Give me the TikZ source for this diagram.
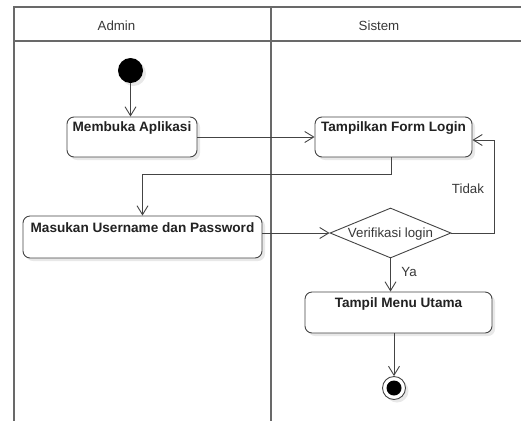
\documentclass[tikz,border=0pt]{standalone}
\usepackage{fontspec}
\setmainfont{Liberation Sans}
\usetikzlibrary{arrows.meta,shapes.geometric,shadows,calc}
\definecolor{ln}{HTML}{444444}
\definecolor{tx}{HTML}{222222}
\tikzset{
  lane/.style={draw=ln!80, line width=1.2pt},
  shad/.style={drop shadow={shadow xshift=3pt, shadow yshift=-3pt, fill=black!9, opacity=1}},
  act/.style={draw=ln, line width=0.9pt, rounded corners=7pt, fill=white, shad, inner sep=0pt},
  lab/.style={font=\fontsize{13.6}{15}\selectfont\bfseries, text=tx, inner sep=0pt, anchor=north},
  txt/.style={font=\fontsize{13.3}{15}\selectfont, text=tx!90, inner sep=0pt},
  flow/.style={draw=ln, line width=0.9pt, -{Straight Barb[length=9pt,width=11pt,line width=0.9pt]}},
}
\begin{document}
\begin{tikzpicture}[x=1pt,y=-1pt]
\useasboundingbox (0,0) rectangle (521,421);
% swimlanes
\coordinate (tl) at (14,7);
\coordinate (tr) at (521,7);
\coordinate (hl) at (14,41);
\coordinate (hr) at (521,41);
\coordinate (bl) at (14,421);
\coordinate (mt) at (271,7);
\coordinate (mb) at (271,421);
\draw[lane] (tr) -- (tl) -- (bl);
\draw[lane] (hl) -- (hr);
\draw[lane] (mt) -- (mb);
\node[txt] (hadmin) at (116.5,26) {Admin};
\node[txt] (hsistem) at (379,26) {Sistem};
% nodes
\node[circle, fill=black, minimum size=25pt, inner sep=0pt, shad] (start) at (130.5,70.5) {};
\node[act, minimum width=130pt, minimum height=40pt] (A) at (132,137) {};
\node[lab] (Alab) at ([yshift=-5pt]A.north) {Membuka Aplikasi};
\node[act, minimum width=157pt, minimum height=40pt] (T) at (393.5,137) {};
\node[lab] (Tlab) at ([yshift=-5pt]T.north) {Tampilkan Form Login};
\node[act, minimum width=239pt, minimum height=42pt] (M) at (142.5,237) {};
\node[lab] (Mlab) at ([yshift=-7pt]M.north) {Masukan Username dan Password};
\node[diamond, draw=ln, line width=0.9pt, fill=white, minimum width=121pt, minimum height=50pt, inner sep=0pt] (D) at (390.5,233) {};
\node[txt] (Dlab) at (390.5,234) {Verifikasi login};
\node[act, minimum width=187pt, minimum height=41pt] (U) at (398.5,312.5) {};
\node[lab] (Ulab) at ([yshift=-6pt]U.north) {Tampil Menu Utama};
\node[circle, draw=ln, line width=0.9pt, fill=white, minimum size=23pt, inner sep=0pt, shad] (E) at (394,388) {};
\node[circle, fill=black, minimum size=15pt, inner sep=0pt] (Ein) at (E.center) {};
% flows
\draw[flow] (start) -- (start |- A.north);
\draw[flow] (A.east) -- (T.west);
\draw[flow] ([xshift=-2.5pt]T.south) -- ++(0,17) -| (M.north);
\draw[flow] (D.west -| M.east) -- (D.west);
\coordinate (loopc) at ($(D.east)+(43,0)$);
\draw[flow] (D.east) -- (loopc) |- ([yshift=-3pt]T.east);
\draw[flow] (D.south) -- (D.south |- U.north);
\draw[flow] (E |- U.south) -- (E.north);
\node[txt] (tidak) at (468,189) {Tidak};
\node[txt] (ya) at (409,272) {Ya};
\end{tikzpicture}
\end{document}
